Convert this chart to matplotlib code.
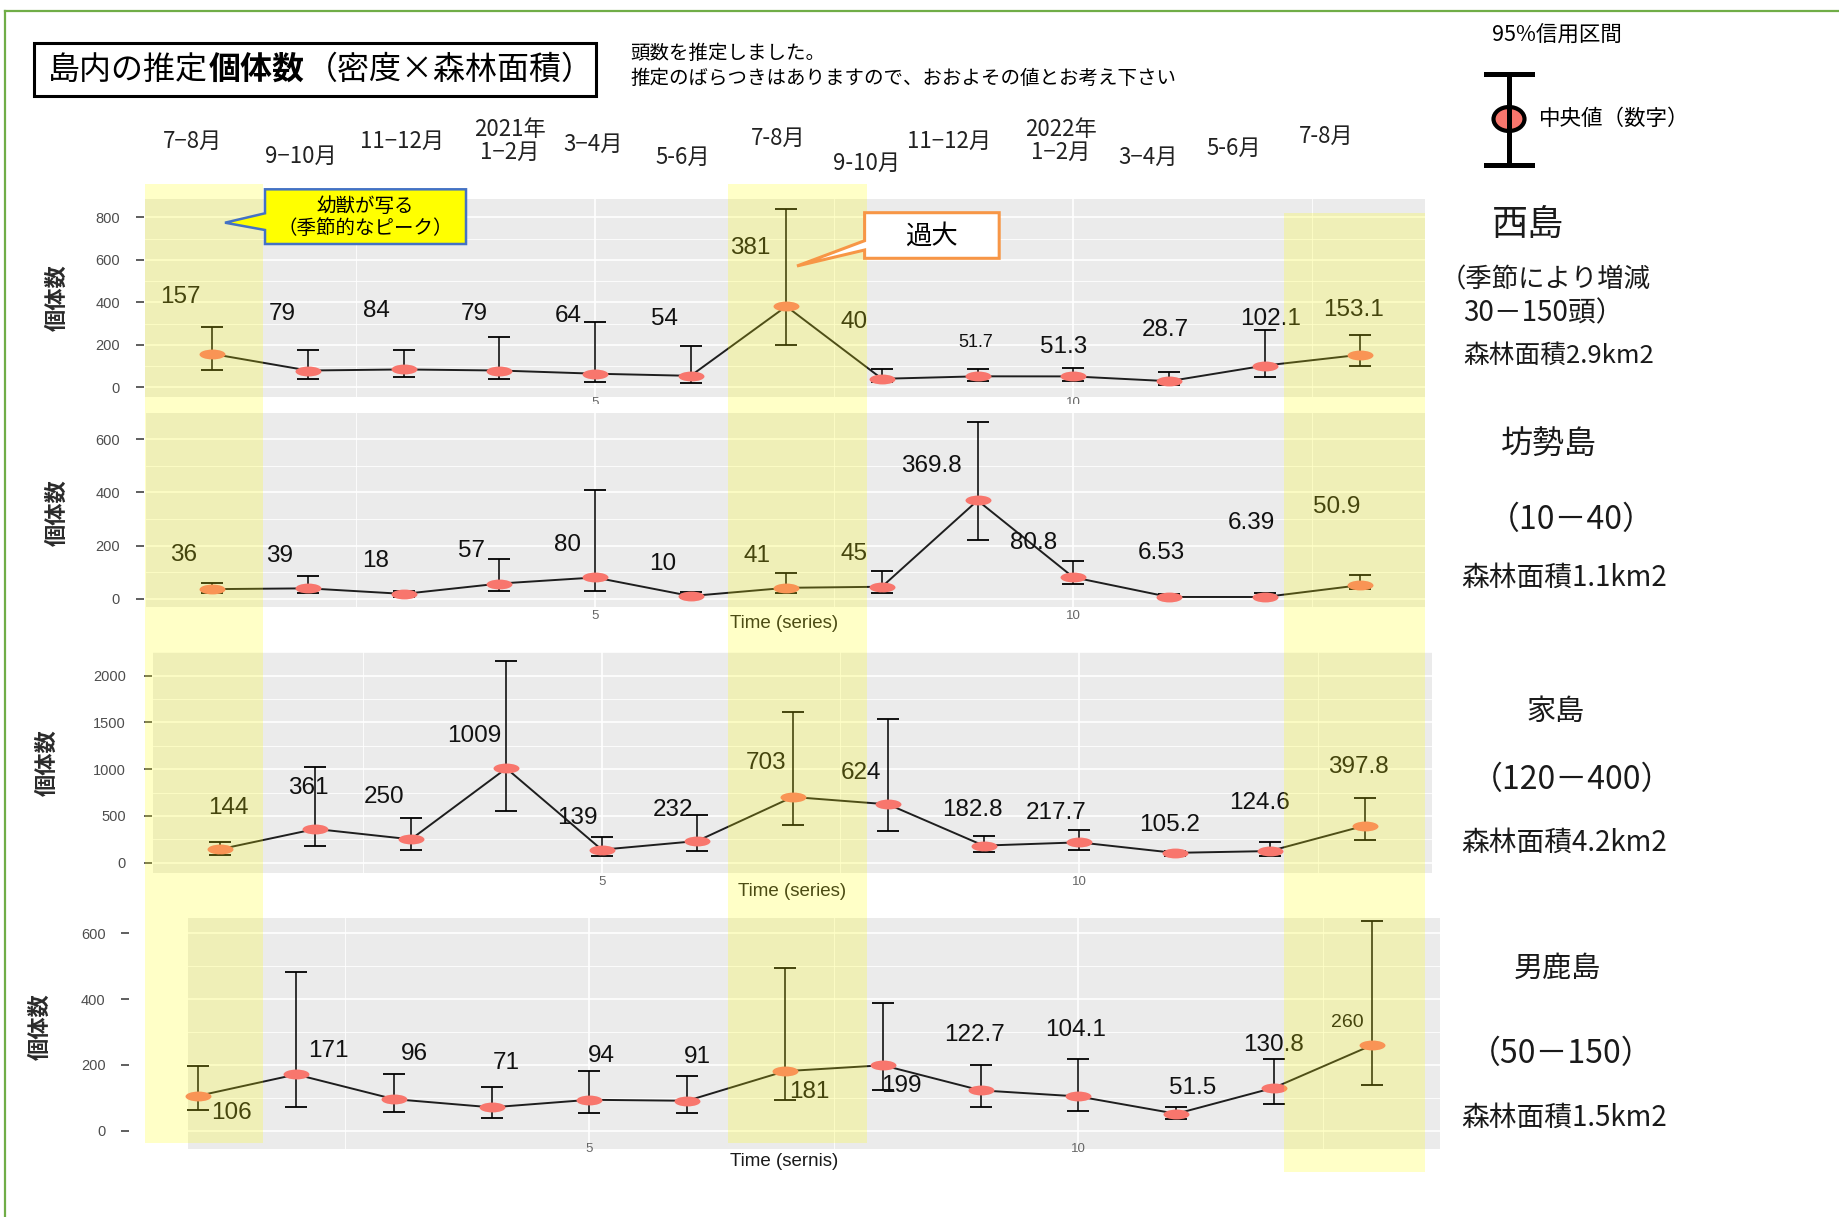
import matplotlib
matplotlib.use("Agg")
import matplotlib.pyplot as plt
import numpy as np
from matplotlib.lines import Line2D
from matplotlib.patches import Ellipse, Polygon, Rectangle
from matplotlib.path import Path

plt.rcParams["font.family"] = ["Noto Sans CJK JP", "DejaVu Sans"]

# ---- data (median and 95% credible interval per survey period) ----
MONTHS = ["7−8月", "9−10月", "11−12月", "2021年\n1−2月", "3−4月", "5-6月", "7-8月",
          "9-10月", "11−12月", "2022年\n1−2月", "3−4月", "5-6月", "7-8月"]

NISHI_MED = [157, 79, 84, 79, 64, 54, 381, 40, 51.7, 51.3, 28.7, 102.1, 153.1]
NISHI_LO = [82, 38, 47, 38, 27, 19, 199, 27, 30, 30, 11, 47, 102]
NISHI_HI = [284, 176, 176, 235, 306, 196, 841, 88, 88, 93, 72, 270, 245]

BOSE_MED = [36, 39, 18, 57, 80, 10, 41, 45, 369.8, 80.8, 6.53, 6.39, 50.9]
BOSE_LO = [23, 20, 8, 28, 30, 4, 20, 23, 221, 54, 1, 1, 35]
BOSE_HI = [60, 85, 30, 148, 409, 25, 98, 105, 666, 142, 18, 23, 89]

IE_MED = [144, 361, 250, 1009, 139, 232, 703, 624, 182.8, 217.7, 105.2, 124.6, 397.8]
IE_LO = [82, 178, 139, 553, 75, 125, 403, 342, 118, 135, 71, 71, 242]
IE_HI = [221, 1020, 481, 2157, 271, 510, 1611, 1533, 289, 349, 128, 221, 688]

OGA_MED = [106, 171, 96, 71, 94, 91, 181, 199, 122.7, 104.1, 51.5, 130.8, 260]
OGA_LO = [63, 73, 56, 40, 55, 55, 93, 124, 73, 60, 35, 80, 138]
OGA_HI = [198, 484, 172, 132, 180, 167, 495, 387, 201, 218, 73, 217, 638]

ISLAND_NOTES = [
    ["西島", "（季節により増減", "30－150頭）", "森林面積2.9km2"],
    ["坊勢島", "（10－40）", "森林面積1.1km2"],
    ["家島", "（120－400）", "森林面積4.2km2"],
    ["男鹿島", "（50－150）", "森林面積1.5km2"],
]

# ---- layout (pixel positions in the 1839x1217 canvas) ----
W, H = 1839, 1217


def fx(x):
    return x / W


def fy(y):
    return 1 - y / H


MONTH_POS = [(193, 141), (301, 156), (402, 141), (510, 141), (593, 144), (683, 157),
             (778, 138), (867, 163), (949, 141), (1061, 141), (1148, 157), (1234, 148),
             (1326, 136)]

NISHI_OFF = [(-32, 57), (-26, 57), (-27, 58), (-25, 57), (-27, 58), (-26, 57), (-36, 58),
             (-28, 57), (-2, 34), (-10, 29), (-4, 51), (6, 47), (-7, 45)]
BOSE_OFF = [(-29, 34), (-28, 32), (-28, 33), (-28, 33), (-28, 32), (-28, 32), (-29, 32),
            (-28, 33), (-46, 34), (-40, 34), (-8, 44), (-13, 74), (-24, 78)]
IE_OFF = [(8, 41), (-7, 41), (-27, 42), (-32, 32), (-24, 32), (-24, 31), (-27, 34),
          (-27, 31), (-11, 36), (-23, 29), (-5, 28), (-10, 48), (-7, 59)]
OGA_OFF = [(33, -17), (32, 23), (20, 45), (15, 44), (12, 44), (10, 44), (24, -21),
           (18, -21), (-6, 55), (-3, 66), (16, 26), (-1, 43), (-25, 23)]

PANELS = [
    dict(med=NISHI_MED, lo=NISHI_LO, hi=NISHI_HI, off=NISHI_OFF, left=144, grey=145,
         right=1425, top=199.3, bottom=396.7, x0=212.4, sp=95.65, y0=387.3, s=0.2125,
         ystep=200, ymax=800, ylab=(57, 298), tick_y=403, xlab=None, lpad=11.5,
         small={8: 13}),
    dict(med=BOSE_MED, lo=BOSE_LO, hi=BOSE_HI, off=BOSE_OFF, left=144, grey=145.5,
         right=1425, top=413.3, bottom=607.3, x0=212.4, sp=95.65, y0=598.7, s=0.2656,
         ystep=200, ymax=600, ylab=(57, 513), tick_y=616, xlab=("Time (series)", 624),
         lpad=11.5, small={}),
    dict(med=IE_MED, lo=IE_LO, hi=IE_HI, off=IE_OFF, left=151.5, grey=152.5,
         right=1431.8, top=651.7, bottom=873.3, x0=220, sp=95.45, y0=862.7, s=0.0935,
         ystep=500, ymax=2000, ylab=(47, 763), tick_y=882, xlab=("Time (series)", 892),
         lpad=12.7, small={}),
    dict(med=OGA_MED, lo=OGA_LO, hi=OGA_HI, off=OGA_OFF, left=129, grey=187.7,
         right=1440, top=918.3, bottom=1149.3, x0=198.3, sp=97.8, y0=1130.7, s=0.3289,
         ystep=200, ymax=600, ylab=(40, 1027), tick_y=1149, xlab=("Time (sernis)", 1162),
         lpad=11.2, small={12: 14}),
]

NOTE_LAYOUT = [
    [(1528, 225, 26, "center"), (1440, 280, 19, "left"), (1463, 313, 20, "left"),
     (1463, 356, 18.5, "left")],
    [(1549, 444, 23, "center"), (1571, 520, 23, "center"), (1461, 578, 20, "left")],
    [(1556, 712, 21, "center"), (1572, 780, 23, "center"), (1461, 843, 20, "left")],
    [(1557, 969, 21, "center"), (1561, 1054, 23, "center"), (1461, 1118, 20, "left")],
]

circle = Path.unit_circle()
ELLIPSE = Path(circle.vertices * np.array([1.0, 0.38]), circle.codes)

fig = plt.figure(figsize=(W / 100, H / 100), dpi=100, facecolor="white")

# frame lines
fig.add_artist(Line2D([fx(5), fx(W)], [fy(11), fy(11)], color="#70ad47", lw=1.6))
fig.add_artist(Line2D([fx(5), fx(5)], [fy(11), fy(H)], color="#70ad47", lw=1.6))

# title box with bold part
fig.add_artist(Rectangle((fx(34), fy(96)), fx(596) - fx(34), fy(43) - fy(96),
                         transform=fig.transFigure, facecolor="white", edgecolor="black",
                         lw=2.2))
renderer = fig.canvas.get_renderer()
x_cursor = 48
for piece, weight in [("島内の推定", "normal"), ("個体数", "bold"), ("（密度×森林面積）", "normal")]:
    t = fig.text(fx(x_cursor), fy(70), piece, fontsize=23, fontweight=weight,
                 ha="left", va="center")
    x_cursor = t.get_window_extent(renderer).x1 + 1
fig.text(fx(630), fy(53), "頭数を推定しました。", fontsize=14, ha="left", va="center")
fig.text(fx(630), fy(78), "推定のばらつきはありますので、おおよその値とお考え下さい",
         fontsize=14, ha="left", va="center")

for label, (mx, my) in zip(MONTHS, MONTH_POS):
    fig.text(fx(mx), fy(my), label, fontsize=16, ha="center", va="center",
             linespacing=1.0, color="#222222")

# legend glyph
fig.text(fx(1557), fy(35), "95%信用区間", fontsize=15.5, ha="center", va="center")
fig.add_artist(Line2D([fx(1509), fx(1509)], [fy(74), fy(165)], color="black", lw=3.6))
for cy in (74, 165):
    fig.add_artist(Line2D([fx(1486), fx(1532)], [fy(cy), fy(cy)], color="black", lw=3.6))
fig.add_artist(Ellipse((fx(1509), fy(119)), 31 / W, 24 / H, transform=fig.transFigure,
                       facecolor="#f8766d", edgecolor="black", lw=3))
fig.text(fx(1539), fy(119), "中央値（数字）", fontsize=15.5, ha="left", va="center")

x = np.arange(1, len(MONTHS) + 1)
for p in PANELS:
    ax = fig.add_axes([fx(p["left"]), fy(p["bottom"]), (p["right"] - p["left"]) / W,
                       (p["bottom"] - p["top"]) / H])
    ax.set_facecolor("white")
    xl = (1 + (p["left"] - p["x0"]) / p["sp"], 1 + (p["right"] - p["x0"]) / p["sp"])
    yl = ((p["y0"] - p["bottom"]) / p["s"], (p["y0"] - p["top"]) / p["s"])
    ax.set_xlim(xl)
    ax.set_ylim(yl)
    gx = 1 + (p["grey"] - p["x0"]) / p["sp"]
    ax.add_patch(Rectangle((gx, yl[0]), xl[1] - gx, yl[1] - yl[0], facecolor="#ebebeb",
                           edgecolor="none", zorder=0))
    ax.set_axisbelow(True)
    for spine in ax.spines.values():
        spine.set_visible(False)

    ax.set_xticks([5, 10])
    ax.set_xticks([2.5, 7.5, 12.5], minor=True)
    ax.set_yticks(np.arange(0, p["ymax"] + 1, p["ystep"]))
    ax.set_yticks(np.arange(p["ystep"] / 2, p["ymax"] + p["ystep"], p["ystep"]), minor=True)
    ax.set_ylim(yl)
    ax.grid(which="major", color="white", lw=1.2)
    ax.grid(which="minor", color="white", lw=0.6)
    ax.tick_params(which="minor", length=0)
    ax.tick_params(axis="y", which="major", length=5.8, width=1.1, color="#333333",
                   labelsize=10.5, labelcolor="#4d4d4d", pad=p["lpad"])
    xpad = (p["tick_y"] - p["bottom"] - 6) / 1.389
    ax.tick_params(axis="x", which="major", length=0, labelsize=9.5, labelcolor="#666666",
                   pad=xpad)
    for lab in ax.get_yticklabels() + ax.get_xticklabels():
        lab.set_family("Liberation Sans")

    med = np.array(p["med"])
    lo = np.array(p["lo"])
    hi = np.array(p["hi"])
    ax.plot(x, med, color="#1e1e1e", lw=1.4, zorder=2)
    ax.errorbar(x, med, yerr=[med - lo, hi - med], fmt="none", ecolor="black",
                elinewidth=1.1, capsize=8, capthick=1.3, zorder=3)
    ax.plot(x, med, ls="none", marker=ELLIPSE, ms=18.7, mfc="#f8766d", mec="none",
            zorder=4)
    for i, (v, off) in enumerate(zip(med, p["off"])):
        ax.annotate(f"{v:g}", xy=(x[i], v), xytext=off, textcoords="offset pixels",
                    ha="center", va="center", fontsize=p["small"].get(i, 17.5),
                    family="Liberation Sans", color="#111111", zorder=5)

    if p["xlab"] is not None:
        ax.set_xlabel(p["xlab"][0], fontsize=13.5, family="Liberation Sans",
                      color="#1a1a1a", va="center")
        ax.xaxis.set_label_coords(0.5, (p["bottom"] - p["xlab"][1]) / (p["bottom"] - p["top"]))
    fig.text(fx(p["ylab"][0]), fy(p["ylab"][1]), "個体数", rotation=90, fontsize=16,
             fontweight="bold", color="#2a2a2a", ha="center", va="center")

# white strip of the second image hides the first panel's axis text
fig.add_artist(Rectangle((fx(130), fy(413)), fx(1440) - fx(130), fy(404) - fy(413),
                         transform=fig.transFigure, facecolor="white", edgecolor="none",
                         zorder=1))

# island notes
for notes, layout in zip(ISLAND_NOTES, NOTE_LAYOUT):
    for text, (tx, ty, size, ha) in zip(notes, layout):
        fig.text(fx(tx), fy(ty), text, fontsize=size, ha=ha, va="center", color="#1a1a1a")

# seasonal highlight bands (translucent yellow overlay)
for left, right, top, bottom in [(145, 263, 183.5, 1142.5), (727.5, 867, 184, 1143.3),
                                 (1284, 1425, 213.3, 1171.7)]:
    fig.add_artist(Rectangle((fx(left), fy(bottom)), fx(right) - fx(left),
                             fy(top) - fy(bottom), transform=fig.transFigure,
                             facecolor="#ffff00", edgecolor="none", alpha=0.22, zorder=5))

# callouts
yellow_call = [(265, 189.3), (466, 189.3), (466, 244), (265, 244), (265, 230),
               (225, 222.7), (265, 213.3)]
fig.add_artist(Polygon([(fx(a), fy(b)) for a, b in yellow_call], closed=True,
                       transform=fig.transFigure, facecolor="#ffff00", edgecolor="#4472c4",
                       lw=1.8, zorder=6))
fig.text(fx(365.5), fy(206), "幼獣が写る", fontsize=14, ha="center", va="center",
         zorder=7)
fig.text(fx(365.5), fy(229), "（季節的なピーク）", fontsize=14, ha="center", va="center",
         zorder=7)

orange_call = [(864.6, 212.7), (999.2, 212.7), (999.2, 258.3), (864.6, 258.3),
               (864.6, 250), (797, 266), (864.6, 240.7)]
fig.add_artist(Polygon([(fx(a), fy(b)) for a, b in orange_call], closed=True,
                       transform=fig.transFigure, facecolor="white", edgecolor="#f79646",
                       lw=2.2, zorder=6))
fig.text(fx(931.7), fy(236.5), "過大", fontsize=19, ha="center", va="center", zorder=7)

fig.savefig("out.png", dpi=100, facecolor="white")
plt.close(fig)
